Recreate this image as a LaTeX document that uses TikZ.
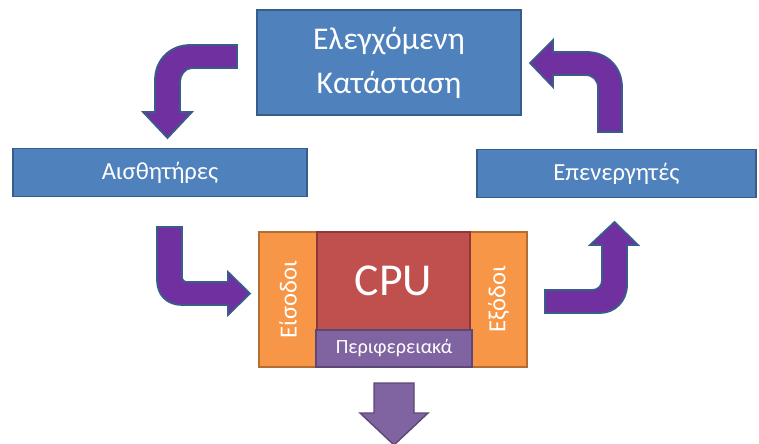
\documentclass[tikz,border=0pt]{standalone}
\usepackage{fontspec}
\setmainfont{Carlito}
\usepackage{xcolor}
\usepackage{tikz}
\definecolor{boxblue}{RGB}{79,129,189}
\definecolor{boxline}{RGB}{56,93,138}
\definecolor{inorange}{RGB}{247,150,70}
\definecolor{orangeline}{RGB}{182,109,49}
\definecolor{cpured}{RGB}{192,80,77}
\definecolor{redline}{RGB}{140,56,54}
\definecolor{periph}{RGB}{128,100,162}
\definecolor{periphline}{RGB}{92,71,118}
\definecolor{bendpurple}{RGB}{112,48,160}

\begin{document}
\begin{tikzpicture}[x=0.02cm, y=-0.02cm,
      blk/.style={rectangle, draw=boxline, fill=boxblue, line width=0.8pt, text=white, inner sep=0pt},
      sens/.style={blk, minimum height=0.96cm, font=\fontsize{14}{16}\selectfont},
      side/.style={blk, draw=orangeline, fill=inorange, rotate=90, minimum width=2.7cm, font=\fontsize{14}{16}\selectfont},
      bendarr/.style={fill=bendpurple, draw=boxline, line width=1pt},
      downarr/.style={fill=periph, draw=periphline, line width=0.8pt}
    ]
      \useasboundingbox (0,0) rectangle (759,443);
      \clip (0,0) rectangle (759,443);
      \node[blk, minimum width=5.28cm, minimum height=2.1cm, align=center,
        font=\fontsize{18}{25}\selectfont] (state) at (389,62.5) {Ελεγχόμενη\\Κατάσταση};
      \node[sens, minimum width=5.88cm] (sensors) at (160,172.5) {Αισθητήρες};
      \node[sens, minimum width=5.58cm] (actuators) at (616.5,173.5) {Επενεργητές};
      \node[side, minimum height=1.16cm] (inputs) at (288,299.5) {Είσοδοι};
      \node[side, minimum height=1.14cm] (outputs) at (498.5,299.5) {Εξόδοι};
      \node[blk, draw=redline, fill=cpured, minimum width=3.06cm, minimum height=1.96cm,
        font=\fontsize{26}{28}\selectfont] (cpu) at (393.5,281) {CPU};
      \node[blk, draw=periphline, fill=periph, minimum width=3.12cm, minimum height=0.74cm,
        font=\fontsize{11.5}{13}\selectfont] (periph) at (394,348.5) {Περιφερειακά};
      \draw[bendarr] (237,45) -- (190,45) .. controls (170,45) and (155,60) .. (155,80)
        -- (155,112) -- (143,112) -- (167.5,138) -- (192,112) -- (180,112) -- (180,82)
        .. controls (180,75) and (185,68) .. (192,68) -- (237,68) -- cycle;
      \draw[bendarr] (553,52) -- (587,52) .. controls (607,52) and (622,67) .. (622,87)
        -- (622,132) -- (598,132) -- (598,88) .. controls (598,80) and (593,75) .. (585,75)
        -- (553,75) -- (553,87) -- (530,63) -- (553,40) -- cycle;
      \draw[bendarr] (157,227) -- (182,227) -- (182,278) .. controls (182,280) and (184,282) .. (186,282)
        -- (228,282) -- (228,272) -- (250,293.5) -- (228,315) -- (228,305) -- (182,305)
        .. controls (167,305) and (157,295) .. (157,280) -- cycle;
      \draw[bendarr] (545,290) -- (592,290) .. controls (598,290) and (602,286) .. (602,280)
        -- (602,245) -- (590,245) -- (614.5,222) -- (638,245) -- (627,245) -- (627,285)
        .. controls (627,301) and (615,313) .. (600,313) -- (545,313) -- cycle;
      \draw[downarr] (374,383) -- (414,383) -- (414,413) -- (428,413) -- (394,445)
        -- (360,413) -- (374,413) -- cycle;
    \end{tikzpicture}
\end{document}
